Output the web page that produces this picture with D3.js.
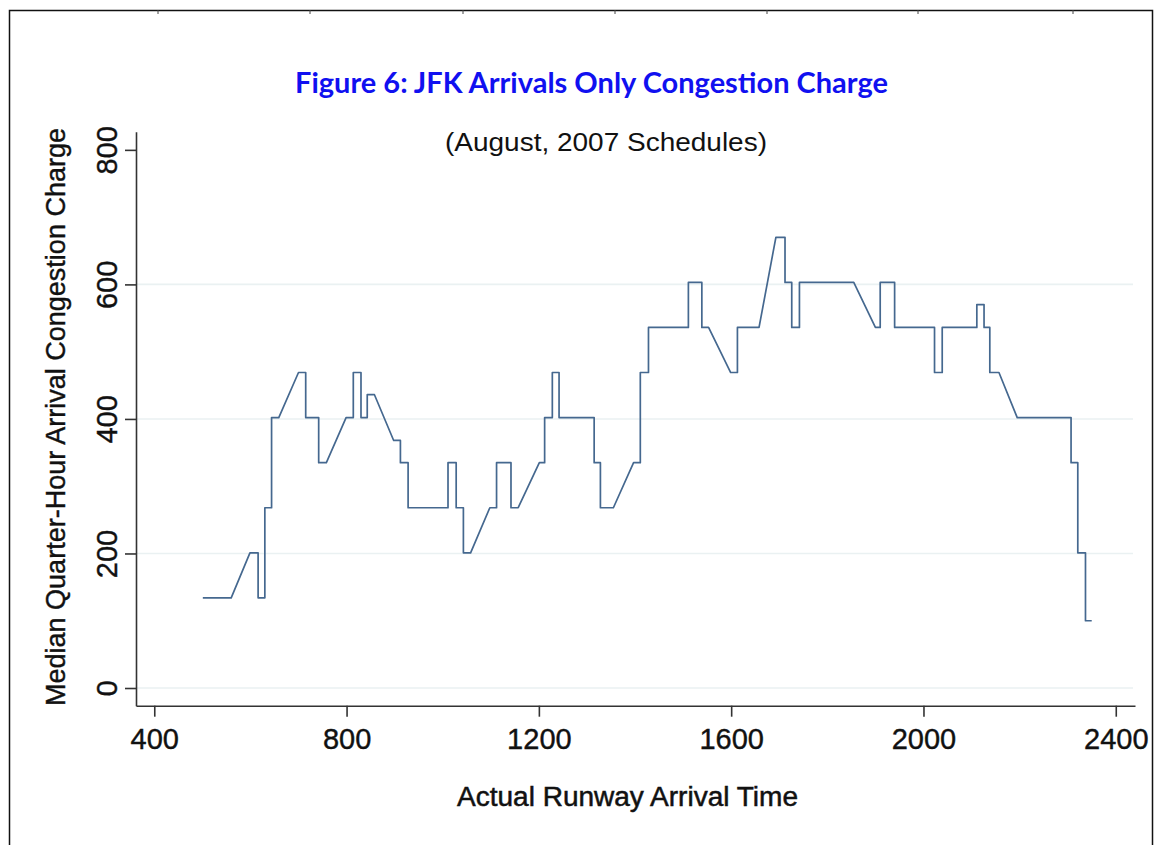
<!DOCTYPE html>
<html>
<head>
<meta charset="utf-8">
<script src="https://cdn.jsdelivr.net/npm/d3@7"></script>
<style>
  body { margin: 0; background: #fff; }
  svg { display: block; }
</style>
</head>
<body>
<svg id="drawing_region"></svg>
<script>
// Arrival time (HHMM) and median quarter-hour congestion charge
const arrivalTime = [501, 560, 599, 616, 616, 630, 630, 644, 644, 659, 700, 715, 715, 742, 742, 758, 799, 814, 814, 830,
    830, 843, 843, 858, 898, 912, 912, 928, 928, 1011, 1011, 1028, 1028, 1043, 1043, 1058, 1098, 1112, 1112, 1142,
    1142, 1157, 1201, 1212, 1212, 1228, 1228, 1242, 1242, 1315, 1315, 1328, 1328, 1355, 1397, 1411, 1411, 1428, 1428, 1511,
    1511, 1539, 1539, 1553, 1599, 1613, 1613, 1658, 1693, 1712, 1712, 1726, 1726, 1742, 1742, 1855, 1900, 1910, 1910, 1940,
    1940, 2023, 2023, 2039, 2039, 2111, 2111, 2126, 2126, 2138, 2138, 2157, 2195, 2307, 2307, 2321, 2321, 2337, 2337, 2350];
const charge = [134, 134, 201, 201, 134, 134, 268, 268, 402, 402, 469, 469, 402, 402, 335, 335, 402, 402, 469, 469,
    402, 402, 436, 436, 368, 368, 335, 335, 268, 268, 335, 335, 268, 268, 201, 201, 268, 268, 335, 335,
    268, 268, 335, 335, 402, 402, 469, 469, 402, 402, 335, 335, 268, 268, 335, 335, 469, 469, 536, 536,
    603, 603, 536, 536, 469, 469, 536, 536, 670, 670, 603, 603, 536, 536, 603, 603, 536, 536, 603, 603,
    536, 536, 469, 469, 536, 536, 570, 570, 536, 536, 469, 469, 402, 402, 335, 335, 201, 201, 100, 100];

const xTicks = [400, 800, 1200, 1600, 2000, 2400];
const yTicks = [0, 200, 400, 600, 800];
const yGrid = [0, 200, 400, 600];

const titleText = "Figure 6: JFK Arrivals Only Congestion Charge";
const subtitleText = "(August, 2007 Schedules)";
const xLabel = "Actual Runway Arrival Time";
const yLabel = "Median Quarter-Hour Arrival Congestion Charge";

class LinePlot {
    constructor(config, data) {
        this.config = config;
        this.data = data;
        this.init();
    }

    init() {
        let self = this;
        self.svg = d3.select(self.config.parent)
            .attr('width', self.config.width)
            .attr('height', self.config.height);

        // page frame (document border with small ruler marks)
        self.svg.append('path')
            .attr('d', 'M9.5,845 V10.5 H1152.5 V845')
            .attr('fill', 'none')
            .attr('stroke', '#111')
            .attr('stroke-width', 1.5);
        self.svg.append('g').selectAll('line')
            .data([158, 310, 463, 615, 767, 918, 1073])
            .join('line')
            .attr('x1', d => d).attr('x2', d => d)
            .attr('y1', 10).attr('y2', 14)
            .attr('stroke', '#444')
            .attr('stroke-width', 1);

        self.chart = self.svg.append('g')
            .attr('transform', `translate(${self.config.margin.left}, ${self.config.margin.top})`);
        self.inner_width = self.config.width - self.config.margin.left - self.config.margin.right;
        self.inner_height = self.config.height - self.config.margin.top - self.config.margin.bottom;

        self.xscale = d3.scaleLinear()
            .domain([362, 2440])
            .range([0, self.inner_width]);

        self.yscale = d3.scaleLinear()
            .domain([-26.3, 827])
            .range([self.inner_height, 0]);

        self.xaxis = d3.axisBottom(self.xscale)
            .tickValues(xTicks)
            .tickSize(11)
            .tickSizeOuter(0)
            .tickFormat(d3.format('d'));

        self.yaxis = d3.axisLeft(self.yscale)
            .tickValues(yTicks)
            .tickSize(11)
            .tickSizeOuter(0)
            .tickFormat(d3.format('d'));

        self.grid_group = self.chart.append('g');
        self.xaxis_group = self.chart.append('g')
            .attr('transform', `translate(0, ${self.inner_height})`);
        self.yaxis_group = self.chart.append('g');

        // titles
        self.svg.append('text')
            .attr('x', 591.5)
            .attr('y', 93)
            .attr('text-anchor', 'middle')
            .attr('font-family', 'Lato, "Open Sans", sans-serif')
            .attr('font-size', 28)
            .attr('font-weight', 'bold')
            .attr('fill', '#1010f0')
            .attr('textLength', 593)
            .attr('lengthAdjust', 'spacingAndGlyphs')
            .text(titleText);

        self.svg.append('text')
            .attr('x', 606)
            .attr('y', 151)
            .attr('text-anchor', 'middle')
            .attr('font-family', '"Liberation Sans", Arial, sans-serif')
            .attr('font-size', 25)
            .attr('fill', '#111')
            .attr('textLength', 322)
            .attr('lengthAdjust', 'spacingAndGlyphs')
            .text(subtitleText);

        self.svg.append('text')
            .attr('x', 627.5)
            .attr('y', 806)
            .attr('text-anchor', 'middle')
            .attr('font-family', '"Liberation Sans", Arial, sans-serif')
            .attr('font-size', 27)
            .attr('fill', '#111')
            .attr('stroke', '#111')
            .attr('stroke-width', 0.5)
            .attr('textLength', 341)
            .attr('lengthAdjust', 'spacingAndGlyphs')
            .text(xLabel);

        self.svg.append('text')
            .attr('transform', 'translate(65, 417) rotate(-90)')
            .attr('text-anchor', 'middle')
            .attr('font-family', '"Liberation Sans", Arial, sans-serif')
            .attr('font-size', 27)
            .attr('fill', '#111')
            .attr('stroke', '#111')
            .attr('stroke-width', 0.4)
            .attr('textLength', 578)
            .attr('lengthAdjust', 'spacingAndGlyphs')
            .text(yLabel);
    }

    render() {
        let self = this;

        // grid lines
        self.grid_group.selectAll('line')
            .data(yGrid)
            .join('line')
            .attr('x1', 0)
            .attr('x2', self.inner_width - 2)
            .attr('y1', d => self.yscale(d))
            .attr('y2', d => self.yscale(d))
            .attr('stroke', '#eaf1f2')
            .attr('stroke-width', 1.6);

        self.xaxis_group.call(self.xaxis);
        self.yaxis_group.call(self.yaxis);

        [self.xaxis_group, self.yaxis_group].forEach(g => {
            g.select('.domain').attr('stroke', '#333').attr('stroke-width', 1.6);
            g.selectAll('.tick line').attr('stroke', '#333').attr('stroke-width', 1.6);
            g.selectAll('.tick text')
                .attr('font-family', '"Liberation Sans", Arial, sans-serif')
                .attr('font-size', 29)
                .attr('fill', '#111')
                .attr('stroke', '#111')
                .attr('stroke-width', 0.4);
        });

        self.xaxis_group.selectAll('.tick text')
            .attr('y', 43)
            .attr('dy', 0);

        self.yaxis_group.selectAll('.tick text')
            .attr('transform', 'rotate(-90)')
            .attr('x', 0)
            .attr('y', -19)
            .attr('dy', 0)
            .attr('text-anchor', 'middle');

        const line = d3.line()
            .x(d => self.xscale(d[0]))
            .y(d => self.yscale(d[1]));

        self.chart.append('path')
            .datum(self.data)
            .attr('d', line)
            .attr('fill', 'none')
            .attr('stroke', '#45688f')
            .attr('stroke-width', 1.7)
            .attr('stroke-linejoin', 'round');
    }
}

const arrayData = arrivalTime.map((t, i) => [t, charge[i]]);

var config = {
    parent: '#drawing_region',
    width: 1162,
    height: 845,
    margin: { top: 131.7, right: 27, bottom: 139.3, left: 136 }
};
const line_plot = new LinePlot(config, arrayData);
line_plot.render();
</script>
</body>
</html>
